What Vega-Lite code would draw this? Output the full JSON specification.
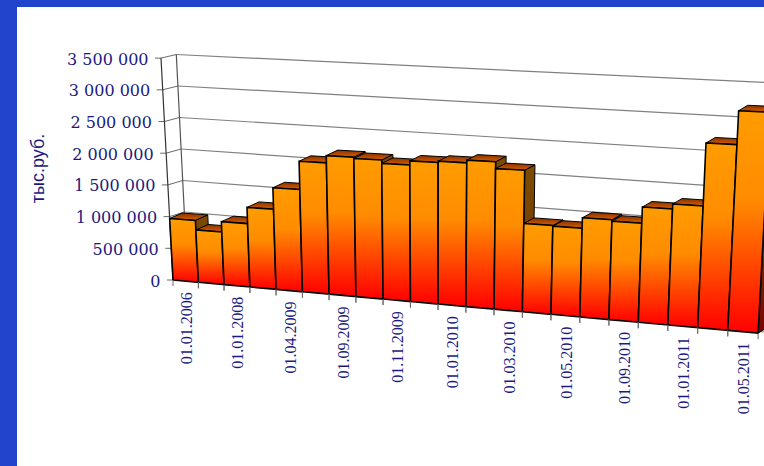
{
"$schema":"https://vega.github.io/schema/vega-lite/v6.json",
"width":748,"height":460,
"autosize":{"type":"none"},
"padding":{"left":17,"top":7,"right":0,"bottom":0},
"background":"#2244CC",
"view":{"fill":"#FFFFFF","stroke":null},
"datasets":{
"bars":[
{"n":0,"date":"01.01.2006","value":970000},
{"n":1,"date":"01.01.2007","value":820000},
{"n":2,"date":"01.01.2008","value":980000},
{"n":3,"date":"01.01.2009","value":1230000},
{"n":4,"date":"01.04.2009","value":1560000},
{"n":5,"date":"01.07.2009","value":1990000},
{"n":6,"date":"01.09.2009","value":2100000},
{"n":7,"date":"01.10.2009","value":2080000},
{"n":8,"date":"01.11.2009","value":2030000},
{"n":9,"date":"01.12.2009","value":2090000},
{"n":10,"date":"01.01.2010","value":2110000},
{"n":11,"date":"01.02.2010","value":2150000},
{"n":12,"date":"01.03.2010","value":2050000},
{"n":13,"date":"01.04.2010","value":1280000},
{"n":14,"date":"01.05.2010","value":1270000},
{"n":15,"date":"01.07.2010","value":1420000},
{"n":16,"date":"01.09.2010","value":1400000},
{"n":17,"date":"01.11.2010","value":1630000},
{"n":18,"date":"01.01.2011","value":1700000},
{"n":19,"date":"01.03.2011","value":2580000},
{"n":20,"date":"01.05.2011","value":3050000}
],
"levels":[
{"level":0,"label":"0"},
{"level":500000,"label":"500 000"},
{"level":1000000,"label":"1 000 000"},
{"level":1500000,"label":"1 500 000"},
{"level":2000000,"label":"2 000 000"},
{"level":2500000,"label":"2 500 000"},
{"level":3000000,"label":"3 000 000"},
{"level":3500000,"label":"3 500 000"}
]},
"encoding":{
"x":{"field":"px","type":"quantitative","scale":{"domain":[17,765]},"axis":null},
"y":{"field":"py","type":"quantitative","scale":{"domain":[467,7]},
"axis":{"title":"тыс.руб.","labels":false,"ticks":false,"domain":false,"grid":false,"titleX":21,"titleY":161,"titleAngle":270,"titleBaseline":"middle","titleAlign":"center","titleFont":"Liberation Sans Narrow, Liberation Sans","titleFontSize":18,"titleFontWeight":"normal","titleColor":"#1A1A80"}}
},
"layer":[
{"data":{"name":"levels"},
"transform":[
{"calculate":"datum.level/1e6","as":"V"},
{"calculate":"187.5-3.2*datum.V","as":"px"},
{"calculate":"275-63*datum.V","as":"py"},
{"calculate":"764","as":"px2"},
{"calculate":"332-71.3*datum.V","as":"py2"}],
"mark":{"type":"rule","color":"#808080","strokeWidth":1.2,"clip":true},
"encoding":{"x2":{"field":"px2"},"y2":{"field":"py2"}}},
{"data":{"name":"levels"},
"transform":[
{"calculate":"datum.level/1e6","as":"V"},
{"calculate":"173-3.43*datum.V","as":"px"},
{"calculate":"280-63.4*datum.V","as":"py"},
{"calculate":"187.5-3.2*datum.V","as":"px2"},
{"calculate":"275-63*datum.V","as":"py2"}],
"mark":{"type":"rule","color":"#6A6A6A","strokeWidth":1,"clip":true},
"encoding":{"x2":{"field":"px2"},"y2":{"field":"py2"}}},
{"data":{"name":"levels"},
"transform":[
{"calculate":"datum.level/1e6","as":"V"},
{"calculate":"173-3.43*datum.V","as":"px"},
{"calculate":"280-63.4*datum.V","as":"py"},
{"calculate":"datum.px-6","as":"px2"},
{"calculate":"datum.py","as":"py2"}],
"mark":{"type":"rule","color":"#6A6A6A","strokeWidth":1,"clip":true},
"encoding":{"x2":{"field":"px2"},"y2":{"field":"py2"}}},
{"data":{"name":"levels"},
"transform":[
{"calculate":"datum.level/1e6","as":"V"},
{"calculate":"173-3.43*datum.V","as":"px"},
{"calculate":"280-63.4*datum.V","as":"py"}],
"mark":{"type":"line","color":"#333333","strokeWidth":1.2,"clip":true},
"encoding":{"order":{"field":"level"}}},
{"data":{"name":"levels"},
"transform":[
{"calculate":"datum.level/1e6","as":"V"},
{"calculate":"187.5-3.2*datum.V","as":"px"},
{"calculate":"275-63*datum.V","as":"py"}],
"mark":{"type":"line","color":"#555555","strokeWidth":1.2,"clip":true},
"encoding":{"order":{"field":"level"}}},
{"data":{"name":"levels"},
"transform":[
{"calculate":"datum.level/1e6","as":"V"},
{"calculate":"173-3.43*datum.V-12.5","as":"px"},
{"calculate":"281.5-63.4*datum.V","as":"py"}],
"mark":{"type":"text","align":"right","baseline":"middle","font":"DejaVu Serif","fontSize":16,"color":"#1A1A80"},
"encoding":{"text":{"field":"label"}}},
{"data":{"name":"bars"},
"transform":[
{"calculate":"[0,1,2,3,4]","as":"c"},{"flatten":["c"]},
{"calculate":"datum.n+1","as":"U"},
{"calculate":"[0,0,1,1,0][datum.c]*datum.value/1e6","as":"V"},
{"calculate":"[0,1,1,0,0][datum.c]","as":"D"},
{"calculate":"173+25.27*datum.U+0.1234*datum.U*datum.U","as":"Xb"},
{"calculate":"datum.Xb+(0.35*datum.U-3.43)*datum.V+datum.D*(12.5-0.17*datum.U)","as":"px"},
{"calculate":"280+0.0908*(datum.Xb-173)-(63.4+0.43*datum.U)*datum.V-datum.D*5.5","as":"py"}],
"mark":{"type":"line","filled":true,"clip":true,"stroke":"#000000","strokeWidth":1,"strokeJoin":"miter",
"fill":{"gradient":"linear","x1":0,"y1":0,"x2":0,"y2":1,"stops":[{"offset":0,"color":"#7A4C00"},{"offset":0.5,"color":"#7A4000"},{"offset":1,"color":"#7A0000"}]}},
"encoding":{"detail":{"field":"n"},"order":{"field":"c"}}},
{"data":{"name":"bars"},
"transform":[
{"calculate":"[0,1,2,3,4]","as":"c"},{"flatten":["c"]},
{"calculate":"datum.n+[0,1,1,0,0][datum.c]","as":"U"},
{"calculate":"datum.value/1e6","as":"V"},
{"calculate":"[0,0,1,1,0][datum.c]","as":"D"},
{"calculate":"173+25.27*datum.U+0.1234*datum.U*datum.U","as":"Xb"},
{"calculate":"datum.Xb+(0.35*datum.U-3.43)*datum.V+datum.D*(12.5-0.17*datum.U)","as":"px"},
{"calculate":"280+0.0908*(datum.Xb-173)-(63.4+0.43*datum.U)*datum.V-datum.D*5.5","as":"py"}],
"mark":{"type":"line","filled":true,"clip":true,"stroke":"#000000","strokeWidth":1,"strokeJoin":"miter",
"fill":{"gradient":"linear","x1":0,"y1":0,"x2":0,"y2":1,"stops":[{"offset":0,"color":"#8A3000"},{"offset":1,"color":"#D86000"}]}},
"encoding":{"detail":{"field":"n"},"order":{"field":"c"}}},
{"data":{"name":"bars"},
"transform":[
{"calculate":"[0,1,2,3,4]","as":"c"},{"flatten":["c"]},
{"calculate":"datum.n+[0,1,1,0,0][datum.c]","as":"U"},
{"calculate":"[0,0,1,1,0][datum.c]*datum.value/1e6","as":"V"},
{"calculate":"173+25.27*datum.U+0.1234*datum.U*datum.U","as":"Xb"},
{"calculate":"datum.Xb+(0.35*datum.U-3.43)*datum.V","as":"px"},
{"calculate":"280+0.0908*(datum.Xb-173)-(63.4+0.43*datum.U)*datum.V","as":"py"}],
"mark":{"type":"line","filled":true,"clip":true,"stroke":"#000000","strokeWidth":1.6,"strokeJoin":"miter",
"fill":{"gradient":"linear","x1":0,"y1":0,"x2":0,"y2":1,"stops":[{"offset":0,"color":"#FF9C00"},{"offset":0.4,"color":"#FF8C00"},{"offset":1,"color":"#FF0000"}]}},
"encoding":{"detail":{"field":"n"},"order":{"field":"c"}}},
{"data":{"name":"bars"},
"transform":[
{"calculate":"[datum.n,datum.n+1]","as":"U"},{"flatten":["U"]},
{"calculate":"173+25.27*datum.U+0.1234*datum.U*datum.U","as":"px"},
{"calculate":"280+0.0908*(datum.px-173)","as":"py"},
{"calculate":"datum.py+6","as":"py2"}],
"mark":{"type":"rule","color":"#6A6A6A","strokeWidth":1,"clip":true},
"encoding":{"y2":{"field":"py2"}}},
{"data":{"name":"bars"},
"transform":[
{"filter":"datum.n%2==0"},
{"calculate":"datum.n+0.5","as":"U"},
{"calculate":"173+25.27*datum.U+0.1234*datum.U*datum.U","as":"Xb"},
{"calculate":"datum.Xb+1.5","as":"px"},
{"calculate":"280+0.0908*(datum.Xb-173)+11","as":"py"}],
"mark":{"type":"text","angle":270,"align":"right","baseline":"middle","font":"Liberation Serif","fontSize":16,"color":"#1A1A80"},
"encoding":{"text":{"field":"date"}}}
]
}
